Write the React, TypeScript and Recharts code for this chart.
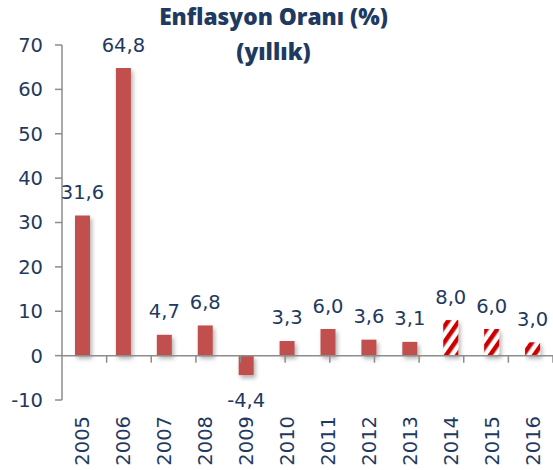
import React from "react";
import { BarChart, Bar, XAxis, YAxis, Cell, LabelList, ReferenceLine } from "recharts";

const years = ["2005", "2006", "2007", "2008", "2009", "2010", "2011", "2012", "2013", "2014", "2015", "2016"];
const inflation = [31.6, 64.8, 4.7, 6.8, -4.4, 3.3, 6.0, 3.6, 3.1, 8.0, 6.0, 3.0];
const projected = [false, false, false, false, false, false, false, false, false, true, true, true];
const yTicks = [-10, 0, 10, 20, 30, 40, 50, 60, 70];
const boundaries = [1, 2, 3, 4, 5, 6, 7, 8, 9, 10, 11];

const data = years.map((year, i) => ({ year, value: inflation[i], projected: projected[i] }));

const TEXT = "#1F3A60";
const AXIS = "#8C8C8C";
const FONT = "'DejaVu Sans', Verdana, sans-serif";

const fmt = (v: number) => v.toFixed(1).replace(".", ",");

const renderLabel = (props: any) => {
  const { x, y, width, height, value } = props;
  const top = Math.min(y, y + height);
  const bottom = Math.max(y, y + height);
  const neg = Number(value) < 0;
  return (
    <text
      x={x + width / 2}
      y={neg ? bottom + 32 : top - 16.5}
      textAnchor="middle"
      fill={TEXT}
      fontSize={19.5}
      fontFamily={FONT}
    >
      {fmt(Number(value))}
    </text>
  );
};

const XTick = (props: any) => {
  const { x, y, payload } = props;
  return (
    <text
      x={x}
      y={y}
      transform={`rotate(-90, ${x}, ${y})`}
      textAnchor="end"
      dy="0.36em"
      fill={TEXT}
      fontSize={19.5}
      fontFamily={FONT}
    >
      {payload.value}
    </text>
  );
};

export default function App() {
  return (
    <div style={{ position: "absolute", left: 0, top: 0, width: 553, height: 470, background: "#fff" }}>
      <div
        style={{
          position: "absolute",
          left: -3,
          top: -1,
          width: 553,
          textAlign: "center",
          fontFamily: "'Open Sans', sans-serif",
          fontWeight: 800,
          fontSize: 22.7,
          color: "#1F3A60",
          lineHeight: "35px",
          zIndex: 2,
        }}
      >
        <div>Enflasyon Oranı (%)</div>
        <div>(yıllık)</div>
      </div>
      <BarChart
        width={553}
        height={470}
        data={data}
        margin={{ top: 45, right: 0, left: 0, bottom: 0 }}
        barSize={15}
      >
        <defs>
          <pattern
            id="stripes"
            patternUnits="userSpaceOnUse"
            width="9"
            height="9"
            patternTransform="rotate(35)"
          >
            <rect x="0" y="0" width="9" height="9" fill="#ffffff" />
            <rect x="0" y="0" width="4.5" height="9" fill="#CC0000" />
          </pattern>
          <filter id="shadow" x="-50%" y="-50%" width="200%" height="200%">
            <feDropShadow dx="2" dy="3" stdDeviation="2" floodColor="#000" floodOpacity="0.3" />
          </filter>
        </defs>
        <XAxis
          dataKey="year"
          axisLine={false}
          tickLine={false}
          tickSize={0}
          tickMargin={16}
          height={70}
          interval={0}
          tick={<XTick />}
        />
        <XAxis xAxisId="n" type="number" domain={[0, 12]} hide />
        <YAxis
          domain={[-10, 70]}
          ticks={yTicks}
          width={62}
          interval={0}
          tickSize={7}
          tickMargin={12}
          stroke={AXIS}
          axisLine={{ stroke: AXIS, strokeWidth: 1.5 }}
          tickLine={{ stroke: AXIS, strokeWidth: 1.5 }}
          tick={{ fill: TEXT, fontSize: 19.5, fontFamily: FONT }}
        />
        <Bar dataKey="value" isAnimationActive={false} filter="url(#shadow)">
          {data.map((d, i) => (
            <Cell key={i} fill={d.projected ? "url(#stripes)" : "#C0504D"} />
          ))}
          <LabelList dataKey="value" content={renderLabel} />
        </Bar>
        <ReferenceLine y={0} stroke={AXIS} strokeWidth={1.5} />
        {boundaries.map((b) => (
          <ReferenceLine
            key={b}
            xAxisId="n"
            segment={[
              { x: b, y: 0 },
              { x: b, y: -1.6 },
            ]}
            stroke={AXIS}
            strokeWidth={1.5}
          />
        ))}
      </BarChart>
    </div>
  );
}
